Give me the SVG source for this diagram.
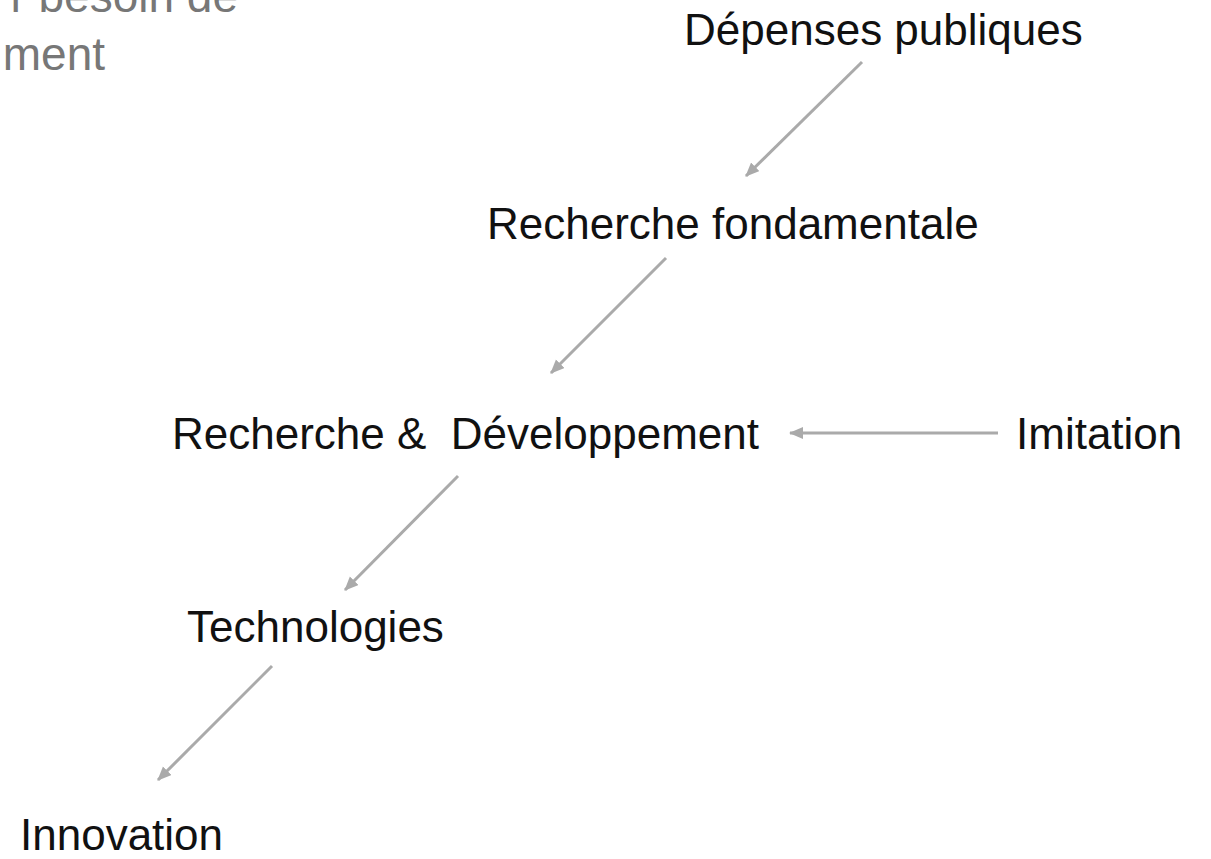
<svg xmlns="http://www.w3.org/2000/svg" width="1211" height="859" viewBox="0 0 1211 859">
<style>
.lbl{font-family:"Liberation Sans",Arial,sans-serif;font-size:44px;fill:#111;}
.gray{font-family:"Liberation Sans",Arial,sans-serif;font-size:46px;fill:#777;}
.conn{stroke:#aaa;stroke-width:3;fill:none;marker-end:url(#ah);}
</style>
<defs>
<marker id="ah" markerUnits="userSpaceOnUse" markerWidth="16" markerHeight="14" refX="13" refY="6" orient="auto">
<path d="M0,0 L14,6 L0,12 Z" fill="#aaa"/>
</marker>
</defs>
<rect width="1211" height="859" fill="#fff"/>
<g id="note">
<text class="gray" x="238" y="12" text-anchor="end">r besoin de</text>
<text class="gray" x="105" y="70" text-anchor="end">ment</text>
</g>
<g id="connectors">
<line class="conn" x1="862" y1="62" x2="746" y2="176"/>
<line class="conn" x1="666" y1="258" x2="551" y2="373"/>
<line class="conn" x1="458" y1="476" x2="345" y2="590"/>
<line class="conn" x1="272" y1="666" x2="158" y2="780"/>
<line class="conn" x1="998" y1="433" x2="790" y2="433"/>
</g>
<g id="depenses"><text class="lbl" x="684" y="45">Dépenses publiques</text></g>
<g id="fondamentale"><text class="lbl" x="487" y="239">Recherche fondamentale</text></g>
<g id="rd"><text class="lbl" x="172" y="449" xml:space="preserve">Recherche &amp;  Développement</text></g>
<g id="imitation"><text class="lbl" x="1016" y="449">Imitation</text></g>
<g id="technologies"><text class="lbl" x="187" y="642">Technologies</text></g>
<g id="innovation"><text class="lbl" x="20" y="850">Innovation</text></g>
</svg>
